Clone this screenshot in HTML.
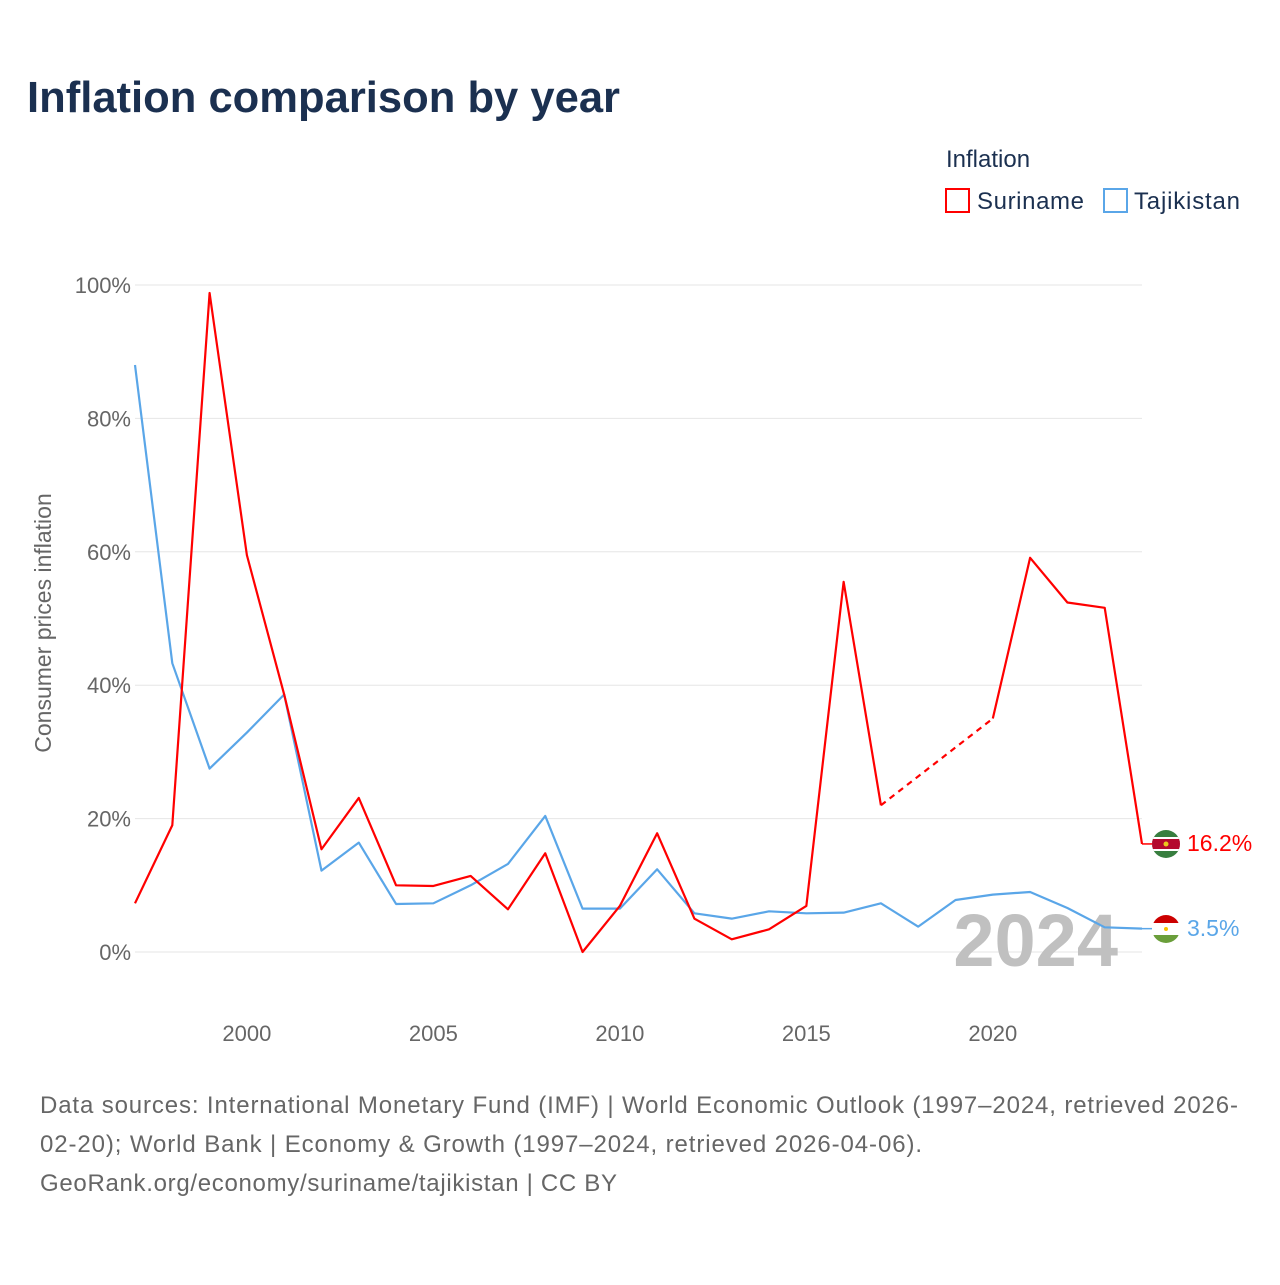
<!DOCTYPE html>
<html><head><meta charset="utf-8">
<style>
body{margin:0;background:#fff;width:1280px;height:1280px;overflow:hidden;font-family:"Liberation Sans",sans-serif;}
svg text{font-family:"Liberation Sans",sans-serif;}
</style></head>
<body>
<svg id="chart" width="1280" height="1280" xmlns="http://www.w3.org/2000/svg">
<text x="27" y="112" font-size="44" font-weight="bold" fill="#1b3050" textLength="593" lengthAdjust="spacingAndGlyphs">Inflation comparison by year</text>
<text x="946" y="167" font-size="24" fill="#1b3050">Inflation</text>
<g><rect x="946" y="189" width="23" height="23" fill="none" stroke="#f00" stroke-width="2"/><text x="977" y="209" font-size="24" fill="#1b3050" textLength="107">Suriname</text></g>
<g><rect x="1104" y="189" width="23" height="23" fill="none" stroke="#5aa6e8" stroke-width="2"/><text x="1134" y="209" font-size="24" fill="#1b3050" textLength="106">Tajikistan</text></g>
<text transform="translate(51,623) rotate(-90)" text-anchor="middle" font-size="23" fill="#666">Consumer prices inflation</text>
<g id="grid"></g><g id="ticks"></g>
<text x="1118" y="966" text-anchor="end" font-size="74" font-weight="bold" fill="#c0c0c0">2024</text>
<g id="series"></g>
<g><clipPath id="c1"><circle cx="1166" cy="844" r="14"/></clipPath><g clip-path="url(#c1)"><rect x="1150" y="828" width="32" height="32" fill="#377e3f"/><rect x="1150" y="837" width="32" height="14" fill="#fff"/><rect x="1150" y="839" width="32" height="10" fill="#b40a2d"/><circle cx="1166" cy="844" r="2.5" fill="#ecc81d"/></g></g>
<g><clipPath id="c2"><circle cx="1166" cy="929" r="14"/></clipPath><g clip-path="url(#c2)"><rect x="1150" y="913" width="32" height="10" fill="#cc0000"/><rect x="1150" y="923" width="32" height="12" fill="#fff"/><rect x="1150" y="935" width="32" height="10" fill="#6a9e3a"/><circle cx="1166" cy="929" r="2" fill="#f8c300"/></g></g>
<text x="1187" y="851" font-size="23" fill="#f00">16.2%</text>
<text x="1187" y="936" font-size="23" fill="#5aa6e8">3.5%</text>
<text font-size="24" fill="#666"><tspan x="40" y="1113" textLength="1198">Data sources: International Monetary Fund (IMF) | World Economic Outlook (1997–2024, retrieved 2026-</tspan></text>
<text font-size="24" fill="#666"><tspan x="40" y="1152" textLength="882">02-20); World Bank | Economy &amp; Growth (1997–2024, retrieved 2026-04-06).</tspan></text>
<text font-size="24" fill="#666"><tspan x="40" y="1191" textLength="577">GeoRank.org/economy/suriname/tajikistan | CC BY</tspan></text>
</svg>
<script>
const years=[1997,1998,1999,2000,2001,2002,2003,2004,2005,2006,2007,2008,2009,2010,2011,2012,2013,2014,2015,2016,2017,2018,2019,2020,2021,2022,2023,2024];
const suriname=[7.3,19.0,98.8,59.5,38.6,15.4,23.1,10.0,9.9,11.4,6.4,14.8,0,6.9,17.8,5.0,1.9,3.4,6.9,55.5,22.0,null,null,35.0,59.1,52.4,51.6,16.2];
const tajikistan=[88.0,43.3,27.5,32.9,38.6,12.2,16.4,7.2,7.3,10.0,13.2,20.4,6.5,6.5,12.4,5.8,5.0,6.1,5.8,5.9,7.3,3.8,7.8,8.6,9.0,6.6,3.7,3.5];
const yTicks=[0,20,40,60,80,100];
const xTicks=[2000,2005,2010,2015,2020];
const NS="http://www.w3.org/2000/svg";
const xS=y=>135+(y-1997)*(1142-135)/27;
const yS=v=>952-v*(952-285)/100;
function mk(tag,attrs,parent,text){const e=document.createElementNS(NS,tag);for(const k in attrs)e.setAttribute(k,attrs[k]);if(text!=null)e.textContent=text;document.getElementById(parent).appendChild(e);return e;}
yTicks.forEach(t=>{
 const l=mk('line',{x1:135,x2:1142,y1:yS(t),y2:yS(t),stroke:'#e6e6e6','stroke-width':1},'grid');
 
 
 const tx=mk('text',{x:131,y:yS(t)+8,'text-anchor':'end','font-size':22,fill:'#666'},'ticks',t+'%');
 
 
});
xTicks.forEach(t=>{
 const tx=mk('text',{x:xS(t),y:1041,'text-anchor':'middle','font-size':22,fill:'#666'},'ticks',t);
 
 
});
function draw(vals,color,name){
 let seg=[],segs=[];
 vals.forEach((v,i)=>{if(v==null){if(seg.length)segs.push(seg);seg=[];}else seg.push([xS(years[i]),yS(v)]);});
 if(seg.length)segs.push(seg);
 segs.forEach((s,k)=>{
  const p=mk('polyline',{points:s.map(q=>q.join(',')).join(' '),fill:'none',stroke:color,'stroke-width':2.2,'stroke-linejoin':'round'},'series');
  
  
  if(k>0){const a=segs[k-1][segs[k-1].length-1],b=s[0];
   const d=mk('line',{x1:a[0],y1:a[1],x2:b[0],y2:b[1],stroke:color,'stroke-width':2.2,'stroke-dasharray':'6,5'},'series');
   
   }
 });
 const last=vals[vals.length-1];
 const e=mk('line',{x1:xS(years[years.length-1]),x2:1152,y1:yS(last),y2:yS(last),stroke:color,'stroke-width':1.5},'series');
 
 
}
draw(tajikistan,'#5aa6e8','tajikistan');
draw(suriname,'#ff0000','suriname');
</script>
</body></html>
